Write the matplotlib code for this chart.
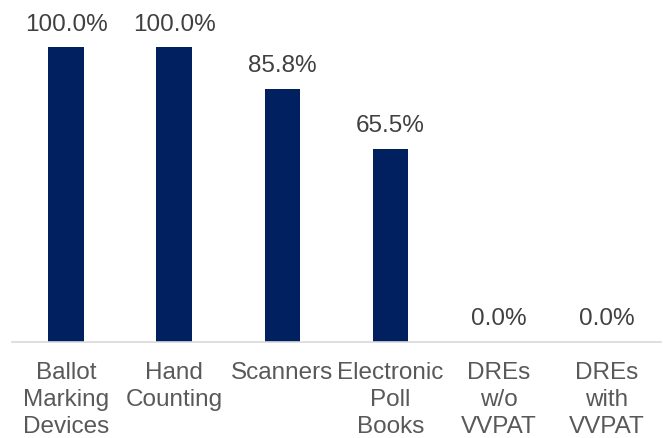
import matplotlib
matplotlib.use("Agg")
import matplotlib.pyplot as plt

plt.rcParams['font.family'] = ['Liberation Sans', 'DejaVu Sans']

categories = ["Ballot\nMarking\nDevices", "Hand\nCounting", "Scanners",
              "Electronic\nPoll\nBooks", "DREs\nw/o\nVVPAT", "DREs\nwith\nVVPAT"]
values = [100.0, 100.0, 85.8, 65.5, 0.0, 0.0]

fig = plt.figure(figsize=(6.63, 4.39), dpi=100)
ax = fig.add_axes([12 / 663, 96 / 439, 649 / 663, 343 / 439])

x = range(len(categories))
bars = ax.bar(x, values, width=0.33, color='#002060')

for b, v in zip(bars, values):
    ax.annotate("%.1f%%" % v, (b.get_x() + b.get_width() / 2, v),
                xytext=(0, 9), textcoords='offset points',
                ha='center', va='bottom', fontsize=17.5, color='#404040')

ax.set_xlim(-0.5, len(categories) - 0.5)
ax.set_ylim(0, 116.3)
ax.set_xticks(list(x))
ax.set_xticklabels(categories, fontsize=17.5, color='#595959', linespacing=1.29, va='top')
ax.tick_params(axis='x', length=0, pad=14)
ax.set_yticks([])
for s in ['top', 'right', 'left']:
    ax.spines[s].set_visible(False)
ax.spines['bottom'].set_color('#d9d9d9')
ax.spines['bottom'].set_linewidth(1.2)

fig.savefig("out.png", dpi=100)
